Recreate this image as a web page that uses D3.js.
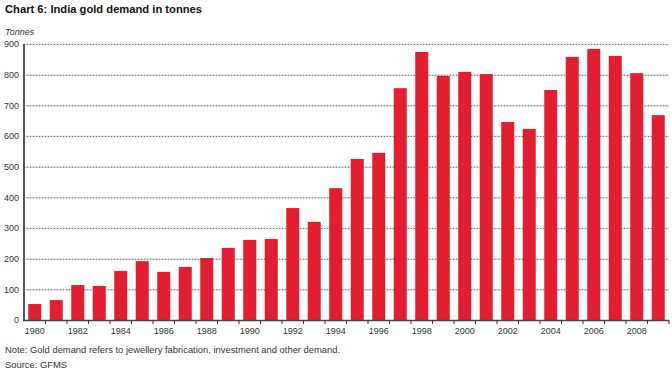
<!DOCTYPE html>
<html>
<head>
<meta charset="utf-8">
<script src="https://cdn.jsdelivr.net/npm/d3@7"></script>
<style>
  html, body { margin: 0; padding: 0; background: #fff; }
  svg { display: block; font-family: "Liberation Sans", Arial, sans-serif; }
</style>
</head>
<body>
<svg id="chart" width="672" height="372"></svg>
<script>
const years = d3.range(1980, 2010);
const demand = [52, 65, 114, 111, 160, 192, 157, 173, 202, 235,
                261, 264, 365, 320, 430, 525, 545, 756, 874, 796,
                809, 802, 646, 623, 750, 858, 884, 861, 805, 668];
const yTicks = [0, 100, 200, 300, 400, 500, 600, 700, 800, 900];
const titleText = "Chart 6: India gold demand in tonnes";
const unitText = "Tonnes";
const noteText = "Note: Gold demand refers to jewellery fabrication, investment and other demand.";
const sourceText = "Source: GFMS";

(function () {
const svg = d3.select("#chart");
const mLeft = 24, mRight = 669, mTop = 44, mBottom = 320;

const x = d3.scaleBand().domain(years).range([mLeft, mRight]).paddingInner(0.395).paddingOuter(0.1975);
const y = d3.scaleLinear().domain([0, 900]).range([mBottom, mTop]);

// title
svg.append("text").attr("x", 5).attr("y", 12.5)
  .attr("font-size", 11.2).attr("font-weight", "bold").attr("fill", "#111")
  .text(titleText);
svg.append("text").attr("x", 5).attr("y", 35)
  .attr("font-size", 9).attr("font-style", "italic").attr("fill", "#333")
  .text(unitText);

// gridlines
const grid = svg.append("g");
yTicks.filter(t => t > 0).forEach(t => {
  grid.append("line").attr("x1", mLeft).attr("x2", mRight)
    .attr("y1", y(t) + 0.5).attr("y2", y(t) + 0.5)
    .attr("stroke", "#d4d4d4").attr("stroke-width", 1.5);
  grid.append("line").attr("x1", mLeft).attr("x2", mRight)
    .attr("y1", y(t) + 0.5).attr("y2", y(t) + 0.5)
    .attr("stroke", "#777").attr("stroke-width", 1).attr("stroke-dasharray", "1,2");
});

// bars
svg.append("g").selectAll("rect").data(years).join("rect")
  .attr("x", d => x(d)).attr("width", x.bandwidth())
  .attr("y", (d, i) => y(demand[i]))
  .attr("height", (d, i) => mBottom - y(demand[i]))
  .attr("fill", "#e31e30");

// y axis
const yAxis = d3.axisLeft(y).tickValues(yTicks).tickSize(0).tickPadding(5);
const gy = svg.append("g").attr("transform", `translate(${mLeft},0)`).call(yAxis);
gy.select(".domain").remove();
gy.selectAll("text").attr("font-size", 9).attr("fill", "#333").attr("font-family", "Liberation Sans, Arial, sans-serif");
svg.append("line").attr("x1", mLeft).attr("x2", mLeft).attr("y1", mTop).attr("y2", mBottom + 1)
  .attr("stroke", "#555").attr("stroke-width", 2);

// x axis
const step = x.step();
const boundaries = d3.range(1, years.length + 1).map(i => mLeft + i * step);
svg.append("line").attr("x1", mLeft - 1).attr("x2", mRight).attr("y1", mBottom + 0.5).attr("y2", mBottom + 0.5)
  .attr("stroke", "#444").attr("stroke-width", 1.5);
svg.append("g").selectAll("line").data(boundaries).join("line")
  .attr("x1", d => d).attr("x2", d => d).attr("y1", mBottom).attr("y2", mBottom + 4)
  .attr("stroke", "#333").attr("stroke-width", 1);
svg.append("g").selectAll("text").data(years.filter(d => d % 2 === 0)).join("text")
  .attr("x", d => x(d) + x.bandwidth() / 2).attr("y", mBottom + 14)
  .attr("text-anchor", "middle").attr("font-size", 9).attr("fill", "#333")
  .text(d => d);

// footnotes
svg.append("text").attr("x", 5).attr("y", 353).attr("font-size", 9.4).attr("fill", "#333").text(noteText);
svg.append("text").attr("x", 5).attr("y", 368).attr("font-size", 9.4).attr("fill", "#333").text(sourceText);
})();
</script>
</body>
</html>
